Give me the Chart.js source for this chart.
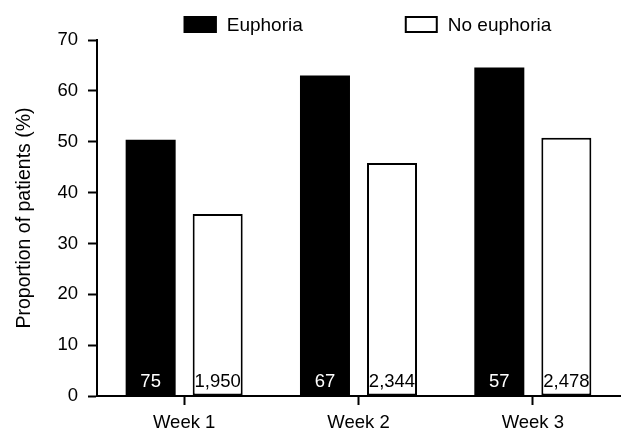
<!DOCTYPE html>
<html>
<head>
<meta charset="utf-8">
<script src="https://cdn.jsdelivr.net/npm/chart.js@4"></script>
<style>
  body { margin: 0; background: #fff; }
</style>
</head>
<body>
<canvas id="euphoriaChart" width="622" height="434"></canvas>
<script>
// values
const weeks = ["Week 1", "Week 2", "Week 3"];
const euphoria = [50.4, 63.0, 64.6];
const noEuphoria = [35.8, 45.8, 50.8];
const nEuphoria = [75, 67, 57];
const nNoEuphoria = [1950, 2344, 2478];
const yTicks = [0, 10, 20, 30, 40, 50, 60, 70];

const FONT = "'Liberation Sans', Arial, sans-serif";
Chart.defaults.font.family = FONT;
Chart.defaults.font.size = 18.5;
Chart.defaults.color = "#000";

// n counts written at the foot of each bar
const countLabels = {
    id: "countLabels",
    afterDatasetsDraw(chart) {
        const ctx = chart.ctx;
        const counts = [nEuphoria, nNoEuphoria];
        const base = chart.scales.y.getPixelForValue(0);
        ctx.save();
        ctx.font = "18.5px " + FONT;
        ctx.textAlign = "center";
        ctx.textBaseline = "middle";
        chart.data.datasets.forEach((ds, i) => {
            chart.getDatasetMeta(i).data.forEach((bar, j) => {
                ctx.fillStyle = i === 0 ? "#fff" : "#000";
                ctx.fillText(counts[i][j].toLocaleString("en-US"), bar.x, base - 14);
            });
        });
        ctx.restore();
    }
};

// legend drawn by hand so the spacing matches
const topLegend = {
    id: "topLegend",
    afterDraw(chart) {
        const ctx = chart.ctx;
        const boxW = 33, boxH = 17, textGap = 10, itemGap = 102, top = 16;
        ctx.save();
        ctx.font = "19px " + FONT;
        const items = chart.data.datasets.map(ds => ({
            ds: ds,
            w: boxW + textGap + ctx.measureText(ds.label).width
        }));
        const total = items.reduce((a, it) => a + it.w, 0) + itemGap * (items.length - 1);
        const a = chart.chartArea;
        let x = (a.left + a.right) / 2 + 9 - total / 2;
        items.forEach(it => {
            ctx.fillStyle = it.ds.backgroundColor;
            ctx.fillRect(x, top, boxW, boxH);
            ctx.lineWidth = 2;
            ctx.strokeStyle = "#000";
            ctx.strokeRect(x + 1, top + 1, boxW - 2, boxH - 2);
            ctx.fillStyle = "#000";
            ctx.textAlign = "left";
            ctx.textBaseline = "middle";
            ctx.fillText(it.ds.label, x + boxW + textGap, top + boxH / 2 + 1);
            x += it.w + itemGap;
        });
        ctx.restore();
    }
};

new Chart(document.getElementById("euphoriaChart").getContext("2d"), {
    type: "bar",
    data: {
        labels: weeks,
        datasets: [
            {
                label: "Euphoria",
                data: euphoria,
                backgroundColor: "#000",
                borderColor: "#000",
                borderWidth: 0,
                categoryPercentage: 0.769,
                barPercentage: 0.746
            },
            {
                label: "No euphoria",
                data: noEuphoria,
                backgroundColor: "#fff",
                borderColor: "#000",
                borderWidth: 2,
                borderSkipped: false,
                categoryPercentage: 0.769,
                barPercentage: 0.746
            }
        ]
    },
    options: {
        responsive: false,
        animation: false,
        layout: {
            padding: { top: 40, right: 2, bottom: 0, left: 0 }
        },
        plugins: {
            legend: { display: false },
            tooltip: { enabled: false }
        },
        scales: {
            x: {
                afterFit: (scale) => {
                    scale.height = 38;
                },
                grid: {
                    offset: false,
                    drawOnChartArea: false,
                    tickLength: 9,
                    tickWidth: 2,
                    color: "#000"
                },
                border: { color: "#000", width: 2 },
                ticks: { padding: 7, color: "#000" }
            },
            y: {
                min: 0,
                max: 70,
                afterBuildTicks: (scale) => {
                    scale.ticks = yTicks.map(v => ({ value: v }));
                },
                afterFit: (scale) => {
                    scale.width = 97;
                },
                grid: {
                    drawOnChartArea: false,
                    tickLength: 9,
                    tickWidth: 2,
                    color: "#000"
                },
                border: { color: "#000", width: 2 },
                ticks: { padding: 10, color: "#000" },
                title: {
                    display: true,
                    text: "Proportion of patients (%)",
                    color: "#000",
                    font: { size: 19.5 },
                    padding: { top: 13, bottom: 4 }
                }
            }
        }
    },
    plugins: [countLabels, topLegend]
});
</script>
</body>
</html>
